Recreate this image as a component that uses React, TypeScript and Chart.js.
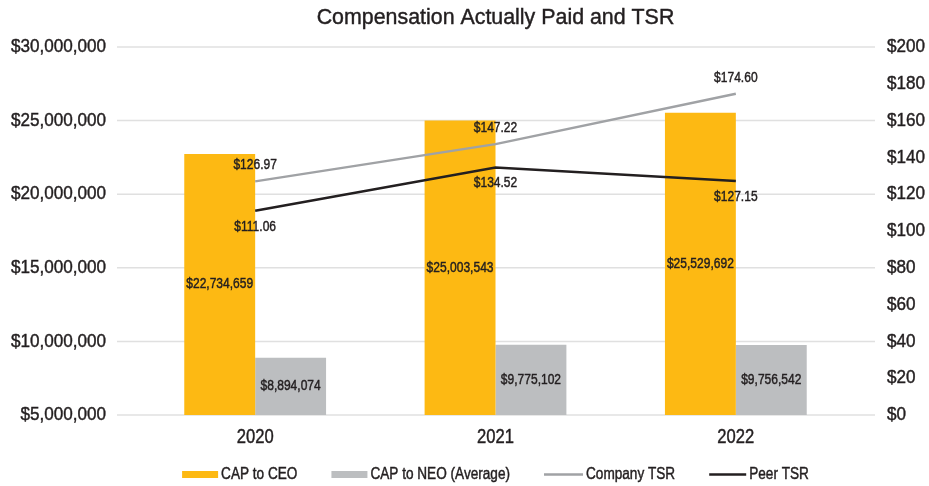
import React, { useEffect, useRef } from "react";
import { Chart, registerables } from "chart.js";

Chart.register(...registerables);

const categories = ["2020", "2021", "2022"];
const capToCeo = [22734659, 25003543, 25529692];
const capToNeo = [8894074, 9775102, 9756542];
const companyTsr = [126.97, 147.22, 174.6];
const peerTsr = [111.06, 134.52, 127.15];

const leftMin = 5000000;
const leftMax = 30000000;
const leftStep = 5000000;
const rightMin = 0;
const rightMax = 200;
const rightStep = 20;

const titleText = "Compensation Actually Paid and TSR";
const seriesNames = ["CAP to CEO", "CAP to NEO (Average)", "Company TSR", "Peer TSR"];

const FONT = "'Liberation Sans', Arial, sans-serif";
const TEXT = "#231F20";
const C_CEO = "#FDB913";
const C_NEO = "#BCBEC0";
const C_COMP = "#A0A2A5";
const C_PEER = "#231F20";

const money0 = (v: number) => "$" + Math.round(v).toLocaleString("en-US");
const money2 = (v: number) => "$" + v.toFixed(2);

// draws condensed text (horizontal compression of a regular face), slightly emboldened
function drawText(
  ctx: CanvasRenderingContext2D,
  text: string,
  x: number,
  y: number,
  size: number,
  sx: number,
  align: CanvasTextAlign
) {
  ctx.save();
  ctx.font = `${size}px ${FONT}`;
  ctx.fillStyle = TEXT;
  ctx.strokeStyle = TEXT;
  ctx.lineWidth = 0.45;
  ctx.textAlign = align;
  ctx.textBaseline = "middle";
  ctx.translate(x, y);
  ctx.scale(sx, 1);
  ctx.fillText(text, 0, 0);
  ctx.strokeText(text, 0, 0);
  ctx.restore();
}

function textWidth(ctx: CanvasRenderingContext2D, text: string, size: number, sx: number) {
  ctx.save();
  ctx.font = `${size}px ${FONT}`;
  const w = ctx.measureText(text).width * sx;
  ctx.restore();
  return w;
}

const gridPlugin = {
  id: "extGrid",
  beforeDatasetsDraw(chart: any) {
    const { ctx, chartArea } = chart;
    const ys = chart.scales.y;
    ctx.save();
    ctx.strokeStyle = "#E0E0E0";
    ctx.lineWidth = 1.5;
    for (let v = leftMin; v <= leftMax; v += leftStep) {
      const py = ys.getPixelForValue(v);
      ctx.beginPath();
      ctx.moveTo(chartArea.left - 18, py);
      ctx.lineTo(chartArea.right + 19, py);
      ctx.stroke();
    }
    ctx.restore();
  },
};

const labelPlugin = {
  id: "valueLabels",
  afterDatasetsDraw(chart: any) {
    const { ctx, chartArea } = chart;
    chart.data.datasets.forEach((ds: any, i: number) => {
      const meta = chart.getDatasetMeta(i);
      meta.data.forEach((el: any, j: number) => {
        const v = ds.data[j];
        if (ds.type === "bar") {
          const p = el.getProps(["x", "y", "base"], true);
          const base = Math.min(p.base, chartArea.bottom);
          drawText(ctx, money0(v), p.x, (p.y + base) / 2, 14.5, 0.83, "center");
        } else {
          const p = el.getProps(["x", "y"], true);
          const dy = i === 2 ? -16 : 16;
          drawText(ctx, money2(v), p.x, p.y + dy, 14.5, 0.83, "center");
        }
      });
    });
  },
};

const textPlugin = {
  id: "titleLegendTicks",
  afterDraw(chart: any) {
    const { ctx, chartArea } = chart;
    const cx = (chartArea.left + chartArea.right) / 2;

    // title
    drawText(ctx, titleText, cx, 18, 22.5, 0.95, "center");

    // axis tick labels
    const ys = chart.scales.y;
    for (let v = leftMin; v <= leftMax; v += leftStep) {
      drawText(ctx, money0(v), chartArea.left - 29, ys.getPixelForValue(v), 19, 0.9, "right");
    }
    const ys1 = chart.scales.y1;
    for (let v = rightMin; v <= rightMax; v += rightStep) {
      drawText(ctx, "$" + v, chartArea.right + 31, ys1.getPixelForValue(v), 19, 0.9, "left");
    }
    const xs = chart.scales.x;
    categories.forEach((c, i) => {
      drawText(ctx, c, xs.getPixelForValue(i), chartArea.bottom + 22, 20, 0.83, "center");
    });

    // legend
    const lsize = 16;
    const lsx = 0.85;
    const markW = [36, 36, 39, 37];
    const gapMark = 3;
    const gapItem = 34;
    const widths = seriesNames.map((n, i) => markW[i] + gapMark + textWidth(ctx, n, lsize, lsx));
    const total = widths.reduce((a, b) => a + b, 0) + gapItem * (seriesNames.length - 1);
    let x = cx - total / 2;
    const ly = 474.5;
    const colors = [C_CEO, C_NEO, C_COMP, C_PEER];
    ctx.save();
    seriesNames.forEach((n, i) => {
      if (i < 2) {
        ctx.fillStyle = colors[i];
        ctx.fillRect(x, ly - 3.5, markW[i], 7);
      } else {
        ctx.strokeStyle = colors[i];
        ctx.lineWidth = 2.5;
        ctx.beginPath();
        ctx.moveTo(x, ly);
        ctx.lineTo(x + markW[i], ly);
        ctx.stroke();
      }
      drawText(ctx, n, x + markW[i] + gapMark, ly, lsize, lsx, "left");
      x += widths[i] + gapItem;
    });
    ctx.restore();
  },
};

export default function App() {
  const ref = useRef<HTMLCanvasElement>(null);
  useEffect(() => {
    if (!ref.current) return;
    const chart = new Chart(ref.current, {
      type: "bar",
      data: {
        labels: categories,
        datasets: [
          {
            type: "bar",
            label: seriesNames[0],
            data: capToCeo,
            backgroundColor: C_CEO,
            yAxisID: "y",
            order: 2,
            categoryPercentage: 0.59,
            barPercentage: 1,
          },
          {
            type: "bar",
            label: seriesNames[1],
            data: capToNeo,
            backgroundColor: C_NEO,
            yAxisID: "y",
            order: 2,
            categoryPercentage: 0.59,
            barPercentage: 1,
          },
          {
            type: "line",
            label: seriesNames[2],
            data: companyTsr,
            borderColor: C_COMP,
            borderWidth: 2.5,
            pointRadius: 0,
            tension: 0,
            yAxisID: "y1",
            order: 1,
          },
          {
            type: "line",
            label: seriesNames[3],
            data: peerTsr,
            borderColor: C_PEER,
            borderWidth: 2.5,
            pointRadius: 0,
            tension: 0,
            yAxisID: "y1",
            order: 1,
          },
        ] as any,
      },
      options: {
        responsive: false,
        devicePixelRatio: 1,
        animation: false,
        layout: { padding: { top: 47, left: 0, right: 0, bottom: 0 } },
        plugins: {
          legend: { display: false },
          title: { display: false },
          tooltip: { enabled: false },
        },
        scales: {
          x: {
            offset: true,
            grid: { display: false, drawTicks: false },
            border: { display: false },
            ticks: { display: false },
            afterFit: (s: any) => {
              s.height = 71;
            },
          },
          y: {
            position: "left",
            min: leftMin,
            max: leftMax,
            grid: { display: false, drawTicks: false },
            border: { display: false },
            ticks: { display: false, stepSize: leftStep },
            afterFit: (s: any) => {
              s.width = 135;
            },
          },
          y1: {
            position: "right",
            min: rightMin,
            max: rightMax,
            grid: { display: false, drawTicks: false },
            border: { display: false },
            ticks: { display: false, stepSize: rightStep },
            afterFit: (s: any) => {
              s.width = 73;
            },
          },
        },
      } as any,
      plugins: [gridPlugin, labelPlugin, textPlugin],
    });
    return () => chart.destroy();
  }, []);
  return (
    <div style={{ position: "fixed", left: 0, top: 0, width: 929, height: 486, background: "#fff" }}>
      <canvas ref={ref} width={929} height={486} style={{ display: "block" }} />
    </div>
  );
}
